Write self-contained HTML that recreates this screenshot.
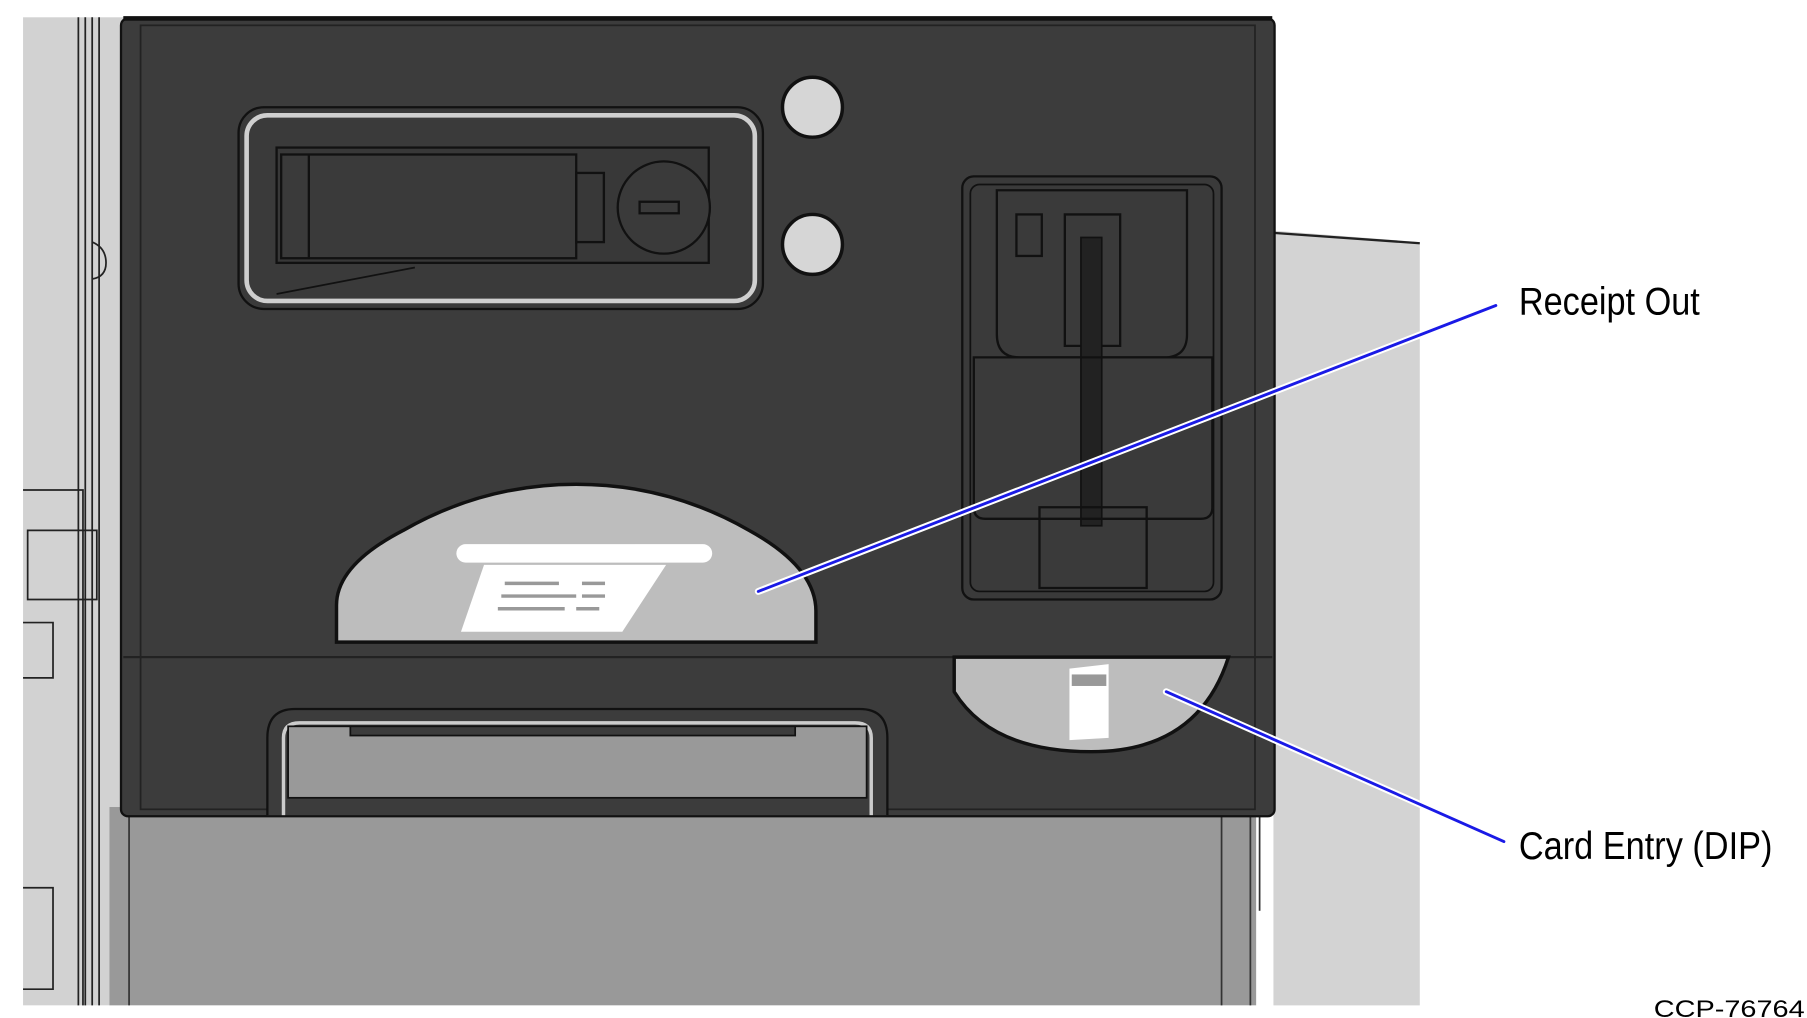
<!DOCTYPE html>
<html><head><meta charset="utf-8"><style>
html,body{margin:0;padding:0;background:#fff;}
svg{display:block}
</style></head><body>
<svg width="1807" height="1018" viewBox="0 0 1568 883" preserveAspectRatio="none" xmlns="http://www.w3.org/2000/svg">
<rect width="1568" height="883" fill="#fff"/>
<!-- left grey strip -->
<rect x="20" y="15" width="90" height="857" fill="#d2d2d2"/>
<g stroke="#222" stroke-width="1.5" fill="none">
<line x1="68" y1="15" x2="68" y2="872"/><line x1="74" y1="15" x2="74" y2="872"/>
<line x1="80" y1="15" x2="80" y2="872"/><line x1="86" y1="15" x2="86" y2="872"/>
<path d="M20 425 H72 V872"/><path d="M24 460 H84 V520 H24 Z"/>
<path d="M20 540 H46 V588 H20"/><path d="M20 770 H46 V858 H20"/>
<path d="M80 210 Q92 215 92 228 Q92 240 80 242"/>
</g>
<!-- right grey panel -->
<path d="M1105 200 L1232 210 V872 H1105 Z" fill="#d3d3d3"/>
<line x1="1105" y1="202" x2="1232" y2="211" stroke="#222" stroke-width="2"/>
<!-- lower grey area -->
<rect x="95" y="700" width="995" height="172" fill="#999"/>
<g stroke="#333" stroke-width="1.5" fill="none">
<line x1="112" y1="700" x2="112" y2="872"/><line x1="1060" y1="700" x2="1060" y2="872"/>
<line x1="1085" y1="700" x2="1085" y2="872"/><line x1="1093" y1="700" x2="1093" y2="790"/>
</g>
<!-- main dark body -->
<rect x="105" y="16" width="1001" height="692" rx="6" fill="#3c3c3c" stroke="#111" stroke-width="2"/>
<line x1="107" y1="16" x2="1104" y2="16" stroke="#111" stroke-width="4"/>
<rect x="122" y="22" width="967" height="680" fill="none" stroke="#222" stroke-width="1.5"/>
<line x1="107" y1="570" x2="1104" y2="570" stroke="#222" stroke-width="2"/>
<!-- receipt slot window -->
<rect x="207" y="93" width="455" height="175" rx="22" fill="#3a3a3a" stroke="#111" stroke-width="2"/>
<rect x="214" y="100" width="441" height="161" rx="18" fill="none" stroke="#cfcfcf" stroke-width="4"/>
<rect x="240" y="128" width="375" height="100" fill="#383838" stroke="#111" stroke-width="2"/>
<rect x="244" y="134" width="256" height="90" fill="#3a3a3a" stroke="#111" stroke-width="2"/>
<line x1="268" y1="134" x2="268" y2="224" stroke="#111" stroke-width="2"/>
<rect x="500" y="150" width="24" height="60" fill="none" stroke="#111" stroke-width="2"/>
<circle cx="576" cy="180" r="40" fill="#3a3a3a" stroke="#111" stroke-width="2"/>
<rect x="555" y="175" width="34" height="10" fill="none" stroke="#111" stroke-width="2"/>
<line x1="240" y1="255" x2="360" y2="232" stroke="#111" stroke-width="1.5"/>
<!-- buttons -->
<circle cx="705" cy="93" r="26" fill="#d6d6d6" stroke="#111" stroke-width="3"/>
<circle cx="705" cy="212" r="26" fill="#d6d6d6" stroke="#111" stroke-width="3"/>
<!-- card reader -->
<rect x="835" y="153" width="225" height="367" rx="10" fill="#3a3a3a" stroke="#111" stroke-width="2"/>
<rect x="842" y="160" width="211" height="353" rx="8" fill="none" stroke="#111" stroke-width="1.5"/>
<path d="M865 165 H1030 V290 Q1030 310 1010 310 H885 Q865 310 865 290 Z" fill="none" stroke="#111" stroke-width="2"/>
<rect x="882" y="186" width="22" height="36" fill="none" stroke="#111" stroke-width="2"/>
<path d="M924 186 H972 V300 H924 Z" fill="#3a3a3a" stroke="#111" stroke-width="2"/>
<rect x="938" y="206" width="18" height="250" fill="#222" stroke="#111" stroke-width="1.5"/>
<path d="M845 310 H1052 V440 Q1052 450 1042 450 H855 Q845 450 845 440 Z" fill="none" stroke="#111" stroke-width="2"/>
<path d="M902 440 H995 V510 H902 Z" fill="none" stroke="#111" stroke-width="2"/>
<!-- receipt out semicircle -->
<path d="M292 557 V525 Q292 490 350 460 Q420 420 500 420 Q580 420 650 460 Q708 492 708 530 V557 Z" fill="#bdbdbd" stroke="#111" stroke-width="3"/>
<rect x="396" y="472" width="222" height="16" rx="8" fill="#fff"/>
<path d="M420 490 L578 490 L540 548 L400 548 Z" fill="#fff"/>
<g stroke="#999" stroke-width="3">
<line x1="438" y1="506" x2="485" y2="506"/><line x1="435" y1="517" x2="500" y2="517"/><line x1="432" y1="528" x2="490" y2="528"/>
<line x1="505" y1="506" x2="525" y2="506"/><line x1="505" y1="517" x2="525" y2="517"/><line x1="500" y1="528" x2="520" y2="528"/>
</g>
<!-- card entry -->
<path d="M828 570 H1066 Q1040 652 947 652 Q860 652 828 600 Z" fill="#bdbdbd" stroke="#111" stroke-width="3"/>
<path d="M928 580 L962 576 V640 L928 642 Z" fill="#fff"/>
<rect x="930" y="585" width="30" height="10" fill="#999"/>
<!-- bottom tray -->
<path d="M232 707 V640 Q232 615 256 615 H746 Q770 615 770 640 V707" fill="#3c3c3c" stroke="#111" stroke-width="2"/>
<path d="M246 707 V640 Q246 627 260 627 H742 Q756 627 756 640 V707" fill="none" stroke="#ccc" stroke-width="3"/>
<rect x="250" y="630" width="502" height="62" fill="#999" stroke="#111" stroke-width="1.5"/>
<rect x="304" y="630" width="386" height="8" fill="#3c3c3c" stroke="#111" stroke-width="1.5"/>
<!-- callout lines -->
<g stroke-linecap="round">
<line x1="658" y1="513" x2="1298" y2="265" stroke="#fff" stroke-width="6"/>
<line x1="658" y1="513" x2="1298" y2="265" stroke="#1a1ae6" stroke-width="2.5"/>
<line x1="1012" y1="600" x2="1305" y2="730" stroke="#fff" stroke-width="6"/>
<line x1="1012" y1="600" x2="1305" y2="730" stroke="#1a1ae6" stroke-width="2.5"/>
</g>
<g font-family="Liberation Sans, sans-serif" fill="#000">
<text x="1318" y="273" font-size="34" textLength="157" lengthAdjust="spacingAndGlyphs">Receipt Out</text>
<text x="1318" y="745" font-size="34" textLength="220" lengthAdjust="spacingAndGlyphs">Card Entry (DIP)</text>
<text x="1435" y="882" font-size="21" textLength="131" lengthAdjust="spacingAndGlyphs">CCP-76764</text>
</g>
</svg>
</body></html>
